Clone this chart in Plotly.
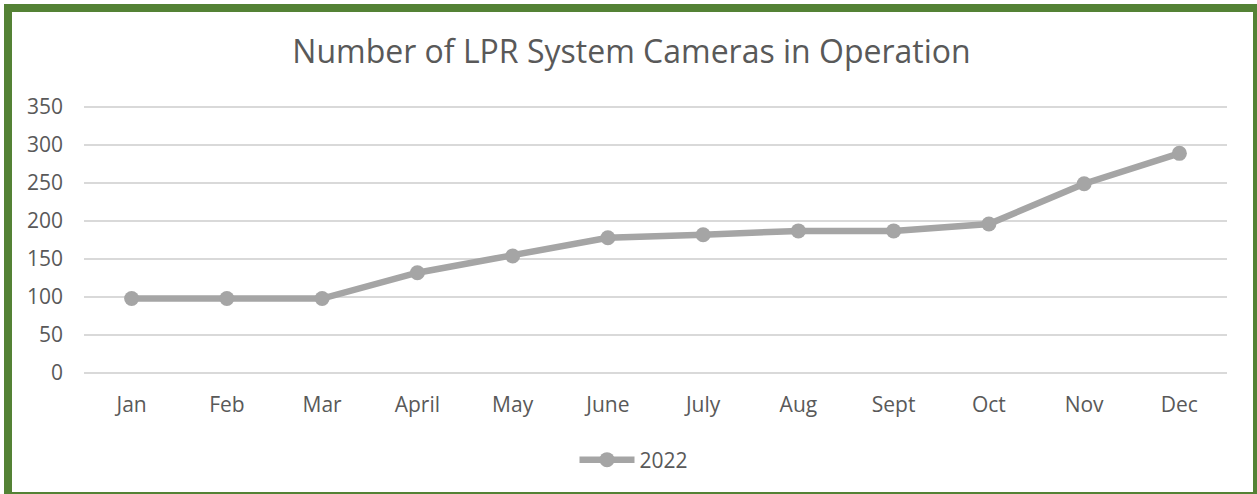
import plotly.graph_objects as go

# ---------- data ----------
months = ["Jan", "Feb", "Mar", "April", "May", "June",
          "July", "Aug", "Sept", "Oct", "Nov", "Dec"]
cameras_2022 = [98, 98, 98, 132, 154, 178, 182, 187, 187, 196, 249, 289]
y_ticks = [0, 50, 100, 150, 200, 250, 300, 350]

W, H = 1257, 494
L, R, T, B = 84, 30, 105, 119
PW, PH = W - L - R, H - T - B

def px_x(px):
    return (px - L) / PW

def px_y(py):
    return (H - B - py) / PH

TXT = "#595959"
GREEN = "#548235"
GREY = "#A5A5A5"

fig = go.Figure()
fig.add_trace(go.Scatter(
    x=months, y=cameras_2022, mode="lines+markers", name="2022",
    line=dict(color=GREY, width=6.5),
    marker=dict(color=GREY, size=15),
))

fig.update_layout(
    width=W, height=H,
    margin=dict(l=L, r=R, t=T, b=B),
    paper_bgcolor="white", plot_bgcolor="white",
    font=dict(family="Open Sans", color=TXT, size=21),
    title=dict(text="Number of LPR System Cameras in Operation",
               x=631.5 / W, xref="container", xanchor="center",
               y=1 - 52 / H, yanchor="middle",
               font=dict(size=32, color=TXT, family="Open Sans")),
    showlegend=True,
    legend=dict(orientation="h", x=px_x(634), xanchor="center",
                y=px_y(460), yanchor="middle",
                font=dict(size=21, color=TXT), itemwidth=55),
)

# pad the y range by ~2px each side so the 0 and 350 gridlines are drawn
pad = 350 * 2 / 266
fig.update_xaxes(range=[-0.5, 11.5], showgrid=False, showline=False,
                 zeroline=False, ticks="", ticklabelstandoff=15,
                 tickfont=dict(size=21, color=TXT))
fig.update_yaxes(range=[-pad, 350 + pad], tickvals=y_ticks, showgrid=True,
                 gridcolor="#D9D9D9", gridwidth=1.5, zeroline=False,
                 showline=False, ticks="", ticklabelstandoff=20,
                 tickfont=dict(size=21, color=TXT))

# green frame around the chart
fig.add_shape(type="rect", xref="paper", yref="paper",
              x0=px_x(8), x1=px_x(1257), y0=px_y(496), y1=px_y(8),
              line=dict(color=GREEN, width=8), fillcolor="rgba(0,0,0,0)",
              layer="above")

fig.write_html("out.html", config={"displayModeBar": False},
               post_script="document.body.style.margin='0';")
